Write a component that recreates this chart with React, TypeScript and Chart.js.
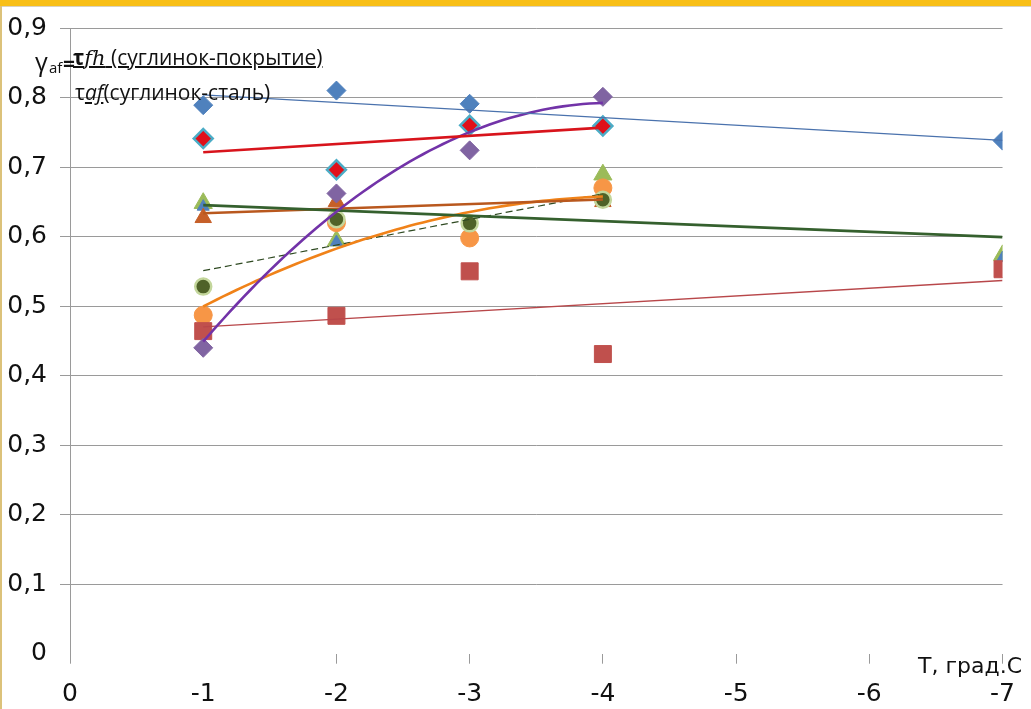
import React, { useEffect, useRef } from 'react';
import { Chart, registerables } from 'chart.js';

Chart.register(...registerables);

// ---- tick labels ----
const xTickValues = [0, -1, -2, -3, -4, -5, -6, -7];
const xTickLabels = ['0', '-1', '-2', '-3', '-4', '-5', '-6', '-7'];
const yTickValues = [0, 0.1, 0.2, 0.3, 0.4, 0.5, 0.6, 0.7, 0.8, 0.9];
const yTickLabels = ['0', '0,1', '0,2', '0,3', '0,4', '0,5', '0,6', '0,7', '0,8', '0,9'];

// ---- series (T, °C  ->  gamma) ----
const tBlueDiamond = [-1, -2, -3, -4, -7];
const vBlueDiamond = [0.789, 0.81, 0.791, 0.76, 0.738];

const tRedDiamond = [-1, -2, -3, -4];
const vRedDiamond = [0.741, 0.696, 0.76, 0.759];

const tPurpleDiamond = [-1, -2, -3, -4];
const vPurpleDiamond = [0.44, 0.662, 0.724, 0.801];

const tRedSquare = [-1, -2, -3, -4, -7];
const vRedSquare = [0.464, 0.486, 0.55, 0.431, 0.553];

const tGreenTriangle = [-1, -2, -4, -7];
const vGreenTriangle = [0.648, 0.594, 0.689, 0.573];

const tBlueTriangle = [-1, -2, -7];
const vBlueTriangle = [0.643, 0.592, 0.569];

const tBrownTriangle = [-1, -2, -4];
const vBrownTriangle = [0.627, 0.65, 0.65];

const tDarkCircle = [-1, -2, -3, -4];
const vDarkCircle = [0.528, 0.625, 0.619, 0.653];

const tOrangeCircle = [-1, -2, -3, -4];
const vOrangeCircle = [0.487, 0.62, 0.598, 0.67];

// ---- trendline helpers (least squares, like Excel trendlines) ----
function linFit(xs: number[], ys: number[]) {
  const n = xs.length;
  const mx = xs.reduce((a, b) => a + b, 0) / n;
  const my = ys.reduce((a, b) => a + b, 0) / n;
  let sxx = 0, sxy = 0;
  for (let i = 0; i < n; i++) {
    sxx += (xs[i] - mx) * (xs[i] - mx);
    sxy += (xs[i] - mx) * (ys[i] - my);
  }
  const b = sxy / sxx;
  const a = my - b * mx;
  return (x: number) => a + b * x;
}

function polyFit2(xs: number[], ys: number[]) {
  const S = [0, 0, 0, 0, 0];
  const T = [0, 0, 0];
  for (let i = 0; i < xs.length; i++) {
    for (let k = 0; k < 5; k++) S[k] += Math.pow(xs[i], k);
    for (let k = 0; k < 3; k++) T[k] += ys[i] * Math.pow(xs[i], k);
  }
  const M = [
    [S[0], S[1], S[2], T[0]],
    [S[1], S[2], S[3], T[1]],
    [S[2], S[3], S[4], T[2]],
  ];
  for (let c = 0; c < 3; c++) {
    let p = c;
    for (let r = c + 1; r < 3; r++) if (Math.abs(M[r][c]) > Math.abs(M[p][c])) p = r;
    [M[c], M[p]] = [M[p], M[c]];
    for (let r = 0; r < 3; r++) {
      if (r === c) continue;
      const f = M[r][c] / M[c][c];
      for (let k = c; k < 4; k++) M[r][k] -= f * M[c][k];
    }
  }
  const c0 = M[0][3] / M[0][0];
  const c1 = M[1][3] / M[1][1];
  const c2 = M[2][3] / M[2][2];
  return (x: number) => c0 + c1 * x + c2 * x * x;
}

function trend(f: (x: number) => number, xs: number[], steps: number) {
  const lo = Math.min(...xs);
  const hi = Math.max(...xs);
  const pts = [];
  for (let i = 0; i <= steps; i++) {
    const x = hi - ((hi - lo) * i) / steps;
    pts.push({ x, y: f(x) });
  }
  return pts;
}

const pts = (xs: number[], ys: number[]) => xs.map((x, i) => ({ x, y: ys[i] }));

export default function App() {
  const ref = useRef<HTMLCanvasElement | null>(null);

  useEffect(() => {
    if (!ref.current) return;

    const line = (data: any[], color: string, width: number, dash: number[] = []) => ({
      data,
      showLine: true,
      borderColor: color,
      borderWidth: width,
      borderDash: dash,
      pointRadius: 0,
      pointHoverRadius: 0,
      fill: false,
      tension: 0,
    });

    const marker = (data: any[], style: string, r: number, fill: string, border: string, bw: number) => ({
      data,
      showLine: false,
      pointStyle: style,
      pointRadius: r,
      pointHoverRadius: r,
      backgroundColor: fill,
      borderColor: border,
      borderWidth: bw,
    });

    const datasets: any[] = [
      // trendlines (on top)
      line(trend(linFit(tBlueDiamond, vBlueDiamond), tBlueDiamond, 1), '#4a72ad', 1.3),
      line(trend(linFit(tRedDiamond, vRedDiamond), tRedDiamond, 1), '#d8141c', 2.6),
      line(trend(polyFit2(tPurpleDiamond, vPurpleDiamond), tPurpleDiamond, 60), '#7233a8', 2.6),
      line(trend(linFit(tGreenTriangle, vGreenTriangle), tGreenTriangle, 1), '#35602e', 2.6),
      line(trend(linFit(tBrownTriangle, vBrownTriangle), tBrownTriangle, 1), '#b9581e', 2.6),
      line(trend(polyFit2(tOrangeCircle, vOrangeCircle), tOrangeCircle, 60), '#f08219', 2.6),
      line(trend(linFit(tDarkCircle, vDarkCircle), tDarkCircle, 1), '#2f4a22', 1.2, [7, 4]),
      line(trend(linFit(tRedSquare, vRedSquare), tRedSquare, 1), '#b8474a', 1.3),
      // markers
      marker(pts(tRedDiamond, vRedDiamond), 'rectRot', 9.5, '#e0101a', '#4bacc6', 2.5),
      marker(pts(tBlueDiamond, vBlueDiamond), 'rectRot', 9.5, '#4f81bd', '#4f81bd', 1),
      marker(pts(tPurpleDiamond, vPurpleDiamond), 'rectRot', 9.5, '#8064a2', '#8064a2', 1),
      marker(pts(tRedSquare, vRedSquare), 'rect', 12, '#c0504d', '#c0504d', 1),
      marker(pts(tDarkCircle, vDarkCircle), 'circle', 8, '#4f6228', '#c3d69b', 2.5),
      marker(pts(tOrangeCircle, vOrangeCircle), 'circle', 9, '#f79646', '#f79646', 1),
      marker(pts(tBrownTriangle, vBrownTriangle), 'triangle', 9.5, '#c65f28', '#c65f28', 1),
      marker(pts(tBlueTriangle, vBlueTriangle), 'triangle', 7, '#4f81bd', '#4f81bd', 1),
      marker(pts(tGreenTriangle, vGreenTriangle), 'triangle', 10.5, '#9bbb59', '#9bbb59', 1),
    ];

    const chart = new Chart(ref.current, {
      type: 'scatter',
      data: { datasets },
      options: {
        animation: false,
        responsive: false,
        maintainAspectRatio: false,
        layout: { padding: { left: 0, right: 21, top: 26, bottom: 0 } },
        plugins: { legend: { display: false }, tooltip: { enabled: false }, title: { display: false } },
        events: [],
        scales: {
          x: {
            type: 'linear',
            min: -7,
            max: 0,
            reverse: true,
            afterBuildTicks: (axis: any) => {
              axis.ticks = xTickValues.map((v) => ({ value: v }));
            },
            afterFit: (scale: any) => {
              scale.height = 55.3;
            },
            border: { display: false },
            grid: {
              drawOnChartArea: false,
              drawTicks: true,
              tickLength: 10,
              color: (ctx: any) => (ctx.tick && ctx.tick.value === -1 ? 'rgba(0,0,0,0)' : '#9a9a9a'),
              lineWidth: 1,
            },
            ticks: {
              padding: 16,
              maxRotation: 0,
              autoSkip: false,
              color: '#111',
              font: { family: 'DejaVu Sans', size: 25 },
              callback: (v: any) => {
                const i = xTickValues.indexOf(Number(v));
                return i >= 0 ? xTickLabels[i] : '';
              },
            },
          },
          y: {
            type: 'linear',
            min: 0,
            max: 0.9,
            afterBuildTicks: (axis: any) => {
              axis.ticks = yTickValues.map((v) => ({ value: v }));
            },
            afterFit: (scale: any) => {
              scale.width = 70;
            },
            border: { display: true, color: '#9a9a9a', width: 1 },
            grid: {
              drawOnChartArea: true,
              drawTicks: true,
              tickLength: 10,
              color: (ctx: any) => (ctx.tick && ctx.tick.value === 0 ? 'rgba(0,0,0,0)' : '#9a9a9a'),
              lineWidth: 1,
            },
            ticks: {
              padding: 13,
              color: '#111',
              font: { family: 'DejaVu Sans', size: 25 },
              callback: (v: any) => {
                const i = yTickValues.findIndex((t) => Math.abs(t - Number(v)) < 1e-9);
                return i >= 0 ? yTickLabels[i] : '';
              },
            },
          },
        },
      },
    });

    return () => chart.destroy();
  }, []);

  const titleFont = '"Open Sans", "Noto Sans", sans-serif';

  return (
    <div
      style={{
        position: 'fixed',
        left: 0,
        top: 0,
        width: 1031,
        height: 709,
        background: '#ffffff',
        overflow: 'hidden',
      }}
    >
      <canvas ref={ref} width={1031} height={709} style={{ position: 'absolute', left: 0, top: 0, width: 1031, height: 709 }} />
      {/* frame */}
      <div style={{ position: 'absolute', left: 0, top: 0, width: 1031, height: 6, background: '#f8bf17' }} />
      <div style={{ position: 'absolute', left: 0, top: 6, width: 1031, height: 1, background: '#d8d2c0' }} />
      <div style={{ position: 'absolute', left: 0, top: 6, width: 2, height: 703, background: '#dcc27a' }} />

      {/* y-axis formula */}
      <span style={{ position: 'absolute', left: 35, top: 49, fontFamily: titleFont, fontSize: 25, lineHeight: 1, color: '#111', whiteSpace: 'nowrap' }}>γ</span>
      <span style={{ position: 'absolute', left: 49, top: 60, fontFamily: titleFont, fontSize: 15, lineHeight: 1, color: '#111', whiteSpace: 'nowrap' }}>af</span>
      <span style={{ position: 'absolute', left: 63, top: 53, fontFamily: titleFont, fontSize: 21, fontWeight: 700, lineHeight: 1, color: '#111', whiteSpace: 'nowrap' }}>=</span>
      <span
        style={{
          position: 'absolute',
          left: 73,
          top: 47,
          fontFamily: titleFont,
          fontSize: 21,
          lineHeight: 1,
          color: '#111',
          whiteSpace: 'nowrap',
          textDecoration: 'underline',
          textDecorationThickness: '1.5px',
        }}
      >
        <b>τ</b>
        <i style={{ fontFamily: '"DejaVu Serif", serif' }}>fh</i> (суглинок-покрытие)
      </span>
      <span style={{ position: 'absolute', left: 75, top: 82, fontFamily: titleFont, fontSize: 21, lineHeight: 1, color: '#111', whiteSpace: 'nowrap' }}>
        τ<i style={{ textDecoration: 'underline' }}>af</i>(суглинок-сталь)
      </span>

      {/* x-axis title */}
      <span style={{ position: 'absolute', left: 918, top: 655, fontFamily: '"DejaVu Sans", sans-serif', fontSize: 22, lineHeight: 1, color: '#111', whiteSpace: 'nowrap' }}>
        T, град.С
      </span>
    </div>
  );
}
